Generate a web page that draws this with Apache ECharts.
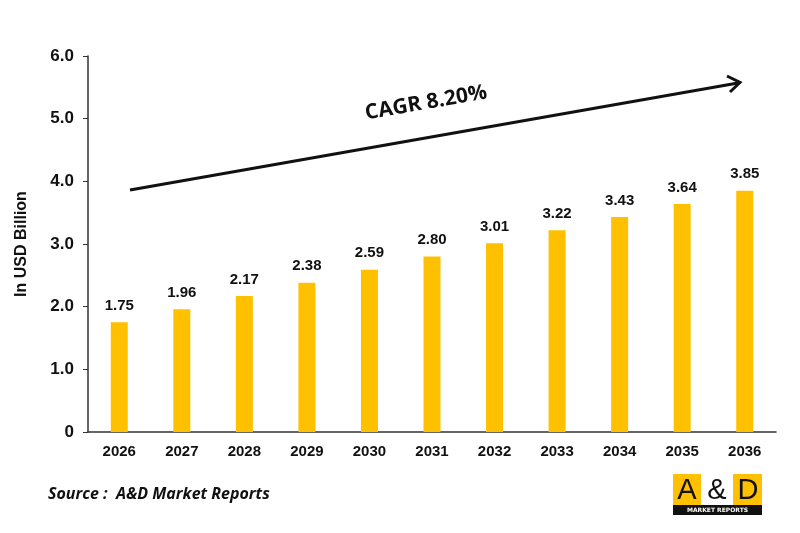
<!DOCTYPE html>
<html lang="en">
<head>
    <meta charset="UTF-8">
    <title>Market Size 2026-2036</title>
    <script src="https://cdn.jsdelivr.net/npm/echarts@6/dist/echarts.min.js"></script>
    <style>
        html, body { margin: 0; padding: 0; background: #fff; }
        #chart { width: 800px; height: 533px; }
    </style>
</head>
<body>
    <div id="chart"></div>
    <script>
        var years = ['2026', '2027', '2028', '2029', '2030', '2031', '2032', '2033', '2034', '2035', '2036'];
        var marketSize = [1.75, 1.96, 2.17, 2.38, 2.59, 2.80, 3.01, 3.22, 3.43, 3.64, 3.85];
        var cagrText = 'CAGR 8.20%';
        var sourceText = 'Source :  A&D Market Reports';

        var chart = echarts.init(document.getElementById('chart'));
        var font = 'Liberation Sans, Arial, sans-serif';

        var option = {
            animation: false,
            grid: { left: 88, right: 24, top: 56, bottom: 101 },
            xAxis: {
                type: 'category',
                data: years,
                axisLine: { lineStyle: { color: '#333', width: 1.5 } },
                axisTick: { show: false },
                axisLabel: { color: '#111', fontFamily: font, fontWeight: 'bold', fontSize: 15, margin: 12 }
            },
            yAxis: {
                type: 'value',
                min: 0, max: 6, interval: 1,
                name: 'In USD Billion',
                nameLocation: 'middle',
                nameGap: 58,
                nameTextStyle: { color: '#111', fontFamily: font, fontWeight: 'bold', fontSize: 16 },
                axisLine: { show: true, lineStyle: { color: '#333', width: 1.5 } },
                axisTick: { show: true, length: 5, lineStyle: { color: '#333' } },
                splitLine: { show: false },
                axisLabel: {
                    color: '#111', fontFamily: font, fontWeight: 'bold', fontSize: 17, margin: 14,
                    formatter: function (v) { return v === 0 ? '0' : v.toFixed(1); }
                }
            },
            series: [{
                type: 'bar',
                data: marketSize,
                barWidth: 17,
                itemStyle: { color: '#FFC000' },
                label: {
                    show: true, position: 'top', distance: 9,
                    color: '#111', fontFamily: font, fontWeight: 'bold', fontSize: 15,
                    formatter: function (p) { return p.value.toFixed(2); }
                }
            }],
            graphic: [
                // CAGR arrow
                { type: 'line', shape: { x1: 130, y1: 190, x2: 738, y2: 83 }, style: { stroke: '#111', lineWidth: 3 } },
                { type: 'polyline', shape: { points: [[727, 76], [740, 82.5], [730, 92]] }, style: { stroke: '#111', lineWidth: 3, fill: null } },
                {
                    type: 'text', x: 426, y: 103, rotation: 10 * Math.PI / 180,
                    style: { text: cagrText, fill: '#111', font: 'bold 21px "Open Sans", sans-serif', align: 'center', verticalAlign: 'middle' }
                },
                // source
                {
                    type: 'text', left: 48, top: 486,
                    style: { text: sourceText, fill: '#111', font: 'italic bold 16px "Open Sans", sans-serif' }
                },
                // logo
                { type: 'rect', shape: { x: 673, y: 474, width: 89, height: 32 }, style: { fill: '#FFC000' } },
                { type: 'rect', shape: { x: 701, y: 474, width: 32, height: 32 }, style: { fill: '#fff' } },
                { type: 'rect', shape: { x: 673, y: 505, width: 89, height: 10 }, style: { fill: '#111' } },
                { type: 'text', x: 687, y: 491, style: { text: 'A', fill: '#111', font: '29px "Liberation Sans", sans-serif', align: 'center', verticalAlign: 'middle' } },
                { type: 'text', x: 717, y: 491, style: { text: '&', fill: '#111', font: '29px "Liberation Sans", sans-serif', align: 'center', verticalAlign: 'middle' } },
                { type: 'text', x: 748, y: 491, style: { text: 'D', fill: '#111', font: '29px "Liberation Sans", sans-serif', align: 'center', verticalAlign: 'middle' } },
                { type: 'text', x: 717.5, y: 510.5, style: { text: 'MARKET REPORTS', fill: '#fff', font: 'bold 6px "DejaVu Sans", sans-serif', align: 'center', verticalAlign: 'middle' } }
            ]
        };
        chart.setOption(option);
    </script>
</body>
</html>
